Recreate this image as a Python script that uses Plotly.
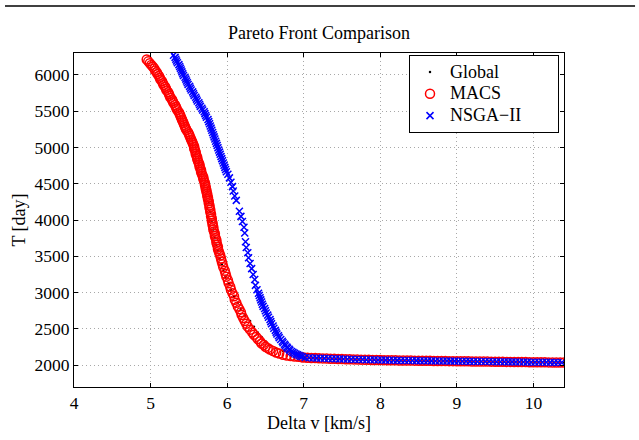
import plotly.graph_objects as go

# ---------------- data ----------------
macs_dv = [
    4.95, 4.97, 4.99, 5.01, 5.03, 5.05, 5.06, 5.08, 5.09, 5.11, 5.12, 5.13, 5.15, 5.16, 5.17, 5.19,
    5.20, 5.21, 5.23, 5.24, 5.25, 5.26, 5.28, 5.29, 5.30, 5.32, 5.33, 5.34, 5.35, 5.37, 5.38, 5.39,
    5.40, 5.41, 5.42, 5.43, 5.44, 5.45, 5.46, 5.47, 5.49, 5.50, 5.51, 5.52, 5.53, 5.54, 5.55, 5.56,
    5.57, 5.57, 5.58, 5.59, 5.59, 5.60, 5.61, 5.61, 5.62, 5.63, 5.64, 5.64, 5.65, 5.66, 5.66, 5.67,
    5.68, 5.69, 5.69, 5.70, 5.71, 5.71, 5.72, 5.72, 5.73, 5.73, 5.74, 5.74, 5.75, 5.75, 5.76, 5.76,
    5.77, 5.77, 5.78, 5.78, 5.79, 5.79, 5.80, 5.80, 5.81, 5.81, 5.82, 5.82, 5.83, 5.84, 5.84, 5.85,
    5.86, 5.86, 5.87, 5.88, 5.88, 5.89, 5.90, 5.91,
    5.92, 5.93, 5.94, 5.95, 5.97, 5.98, 5.99, 6.01, 6.02, 6.04, 6.05, 6.07, 6.09, 6.10, 6.12, 6.14,
    6.16, 6.18, 6.19, 6.21, 6.23, 6.25, 6.27, 6.30, 6.33, 6.35, 6.38, 6.40, 6.43, 6.45, 6.48, 6.50,
    6.53, 6.56, 6.60, 6.64, 6.68, 6.73, 6.78, 6.83, 6.88, 6.93, 6.97,
    7.00, 7.05, 7.10, 7.15, 7.20, 7.25, 7.30, 7.35, 7.40, 7.45,
    7.50, 7.55, 7.60, 7.65, 7.70, 7.75, 7.80, 7.85, 7.90, 7.95,
    8.00, 8.05, 8.10, 8.15, 8.20, 8.25, 8.30, 8.35, 8.40, 8.45,
    8.50, 8.55, 8.60, 8.65, 8.70, 8.75, 8.80, 8.85, 8.90, 8.95,
    9.00, 9.05, 9.10, 9.15, 9.20, 9.25, 9.30, 9.35, 9.40, 9.45,
    9.50, 9.55, 9.60, 9.65, 9.70, 9.75, 9.80, 9.85, 9.90, 9.95,
    10.00, 10.05, 10.10, 10.15, 10.20, 10.25, 10.30, 10.35, 10.40,
]
macs_T = [
    6210, 6185, 6160, 6135, 6110, 6085, 6060, 6035, 6010, 5985, 5960, 5935, 5910, 5885, 5860, 5835,
    5810, 5785, 5760, 5735, 5710, 5685, 5660, 5635, 5610, 5585, 5560, 5535, 5510, 5485, 5460, 5435,
    5410, 5385, 5360, 5335, 5310, 5285, 5260, 5235, 5210, 5185, 5160, 5135, 5110, 5085, 5060, 5035,
    5010, 4985, 4960, 4935, 4910, 4885, 4860, 4835, 4810, 4785, 4760, 4735, 4710, 4685, 4660, 4635,
    4610, 4585, 4560, 4535, 4510, 4485, 4460, 4435, 4410, 4385, 4360, 4335, 4310, 4285, 4260, 4230,
    4200, 4170, 4140, 4110, 4080, 4050, 4020, 3990, 3960, 3930, 3900, 3870, 3840, 3810, 3780, 3750,
    3720, 3690, 3660, 3630, 3600, 3570, 3540, 3510,
    3470, 3430, 3390, 3350, 3300, 3260, 3220, 3170, 3130, 3080, 3040, 2990, 2950, 2900, 2860, 2810,
    2770, 2730, 2690, 2650, 2610, 2570, 2530, 2490, 2450, 2420, 2390, 2360, 2330, 2300, 2280, 2255,
    2235, 2215, 2195, 2175, 2160, 2145, 2135, 2127, 2120, 2115, 2111,
    2106, 2103, 2100, 2098, 2096, 2094, 2092, 2090, 2088, 2086,
    2085, 2083, 2082, 2080, 2079, 2077, 2076, 2075, 2073, 2072,
    2071, 2070, 2069, 2068, 2067, 2066, 2065, 2064, 2064, 2063,
    2062, 2061, 2061, 2060, 2059, 2058, 2058, 2057, 2056, 2056,
    2055, 2054, 2054, 2053, 2052, 2052, 2051, 2050, 2050, 2049,
    2048, 2048, 2047, 2046, 2046, 2045, 2044, 2044, 2043, 2042,
    2042, 2041, 2040, 2040, 2039, 2038, 2038, 2037, 2036,
]

nsga_dv = [
    5.30, 5.32, 5.33, 5.34, 5.35, 5.37, 5.38, 5.39, 5.40, 5.41, 5.42, 5.43, 5.45, 5.46, 5.47, 5.48,
    5.49, 5.51, 5.52, 5.53, 5.55, 5.56, 5.57, 5.59, 5.60, 5.61, 5.63, 5.64, 5.65, 5.67, 5.68, 5.70,
    5.71, 5.72, 5.73, 5.75, 5.76, 5.77, 5.78, 5.79, 5.80, 5.81, 5.82, 5.83, 5.84, 5.85, 5.86, 5.87,
    5.88, 5.89, 5.90, 5.91, 5.92, 5.93, 5.94, 5.95, 5.96, 5.97, 5.98, 5.99,
    6.01, 6.03, 6.05, 6.07, 6.08, 6.10, 6.12, 6.16, 6.18, 6.20, 6.22, 6.23, 6.24, 6.25, 6.27,
    6.28, 6.30, 6.32, 6.34, 6.36, 6.37, 6.39,
    6.41, 6.42, 6.43, 6.44, 6.45, 6.46, 6.47, 6.49, 6.50, 6.51, 6.53, 6.54, 6.56, 6.57, 6.58, 6.60,
    6.61, 6.63, 6.64, 6.65, 6.67, 6.68, 6.70, 6.72, 6.73, 6.75, 6.76, 6.78, 6.79, 6.81, 6.82, 6.84,
    6.86, 6.88, 6.90, 6.92, 6.94, 6.96, 6.98,
    7.02, 7.07, 7.12, 7.17, 7.22, 7.27, 7.32, 7.37, 7.42, 7.47,
    7.52, 7.57, 7.62, 7.67, 7.72, 7.77, 7.82, 7.87, 7.92, 7.97,
    8.02, 8.07, 8.12, 8.17, 8.22, 8.27, 8.32, 8.37, 8.42, 8.47,
    8.52, 8.57, 8.62, 8.67, 8.72, 8.77, 8.82, 8.87, 8.92, 8.97,
    9.02, 9.07, 9.12, 9.17, 9.22, 9.27, 9.32, 9.37, 9.42, 9.47,
    9.52, 9.57, 9.62, 9.67, 9.72, 9.77, 9.82, 9.87, 9.92, 9.97,
    10.02, 10.07, 10.12, 10.17, 10.22, 10.27, 10.32, 10.37,
]
nsga_T = [
    6270, 6240, 6215, 6190, 6165, 6140, 6115, 6090, 6065, 6040, 6015, 5990, 5965, 5940, 5915, 5890,
    5865, 5840, 5815, 5790, 5765, 5740, 5715, 5690, 5665, 5640, 5615, 5590, 5565, 5540, 5515, 5490,
    5465, 5440, 5415, 5385, 5355, 5325, 5295, 5265, 5235, 5205, 5175, 5145, 5115, 5085, 5055, 5025,
    4995, 4965, 4935, 4905, 4875, 4845, 4815, 4785, 4755, 4725, 4695, 4665,
    4630, 4580, 4520, 4460, 4400, 4330, 4270, 4120, 4050, 3980, 3900, 3820, 3700, 3620, 3550,
    3480, 3400, 3330, 3250, 3180, 3100, 3040,
    2990, 2960, 2930, 2900, 2870, 2840, 2810, 2780, 2750, 2720, 2690, 2660, 2630, 2600, 2570, 2540,
    2510, 2480, 2455, 2430, 2405, 2380, 2355, 2330, 2310, 2290, 2270, 2250, 2235, 2220, 2205, 2190,
    2177, 2165, 2153, 2143, 2133, 2124, 2116,
    2106, 2103, 2100, 2098, 2096, 2094, 2092, 2090, 2088, 2087,
    2085, 2083, 2082, 2080, 2079, 2078, 2076, 2075, 2074, 2072,
    2071, 2070, 2069, 2068, 2067, 2066, 2065, 2064, 2064, 2063,
    2062, 2061, 2061, 2060, 2059, 2058, 2058, 2057, 2056, 2056,
    2055, 2054, 2054, 2053, 2052, 2052, 2051, 2050, 2050, 2049,
    2048, 2048, 2047, 2046, 2046, 2045, 2044, 2044, 2043, 2042,
    2042, 2041, 2040, 2040, 2039, 2038, 2038, 2037,
]

global_dv = [
    5.76, 5.78, 5.80, 5.82, 5.84, 5.86, 5.88, 5.90, 5.93, 5.95, 5.98, 6.02, 6.05, 6.09, 6.14,
    6.18, 6.23, 6.30, 6.35, 6.40, 6.45, 6.50, 6.56, 6.64, 6.73, 6.83, 6.93, 7.00, 7.50, 8.00,
    8.50, 9.00, 9.50, 10.00, 10.40,
]
global_T = [
    4230, 4110, 3990, 3870, 3750, 3660, 3570, 3470, 3390, 3300, 3220, 3130, 3040, 2950, 2860,
    2770, 2690, 2610, 2530, 2450, 2390, 2330, 2280, 2235, 2195, 2160, 2135, 2106, 2085, 2071,
    2062, 2055, 2048, 2042, 2036,
]

series_names = ["Global", "MACS", "NSGA\u2212II"]
x_ticks = [4, 5, 6, 7, 8, 9, 10]
y_ticks = [2000, 2500, 3000, 3500, 4000, 4500, 5000, 5500, 6000]

FONT = "Liberation Serif, Times New Roman, serif"
NB = "\u00a0"


def legend_label(name, pad):
    # larger visible text inside a compact legend row, trailing padding like MATLAB's legend box
    return f'<span style="font-size:18px">{name}{NB * pad}</span>'


fig = go.Figure()
fig.add_trace(go.Scatter(
    x=global_dv, y=global_T, mode="markers", name=legend_label(series_names[0], 7),
    marker=dict(symbol="circle", size=2.5, color="black"),
))
fig.add_trace(go.Scatter(
    x=macs_dv, y=macs_T, mode="markers", name=legend_label(series_names[1], 7),
    marker=dict(symbol="circle-open", size=9, color="#ff0000", line=dict(width=1.5, color="#ff0000")),
))
fig.add_trace(go.Scatter(
    x=nsga_dv, y=nsga_T, mode="markers", name=legend_label(series_names[2], 7),
    marker=dict(symbol="x-thin-open", size=7, color="#0000ff", line=dict(width=1.5, color="#0000ff")),
))

axis_common = dict(
    showline=True, linecolor="black", linewidth=1, mirror="ticks",
    ticks="inside", ticklen=4, tickcolor="black",
    showgrid=True, gridcolor="#a8a8a8", griddash="1px,3px", gridwidth=1,
    zeroline=False, tickfont=dict(family=FONT, size=17.5, color="black"),
)

fig.update_xaxes(range=[4, 10.4], tickvals=x_ticks, ticktext=[str(v) for v in x_ticks],
                 title=dict(text="Delta v [km/s]", font=dict(family=FONT, size=18, color="black"), standoff=2),
                 **axis_common)
fig.update_yaxes(range=[1700, 6300], tickvals=y_ticks, ticktext=[str(v) for v in y_ticks],
                 title=dict(text="T [day]", font=dict(family=FONT, size=18, color="black"), standoff=4),
                 **axis_common)

fig.update_layout(
    width=639, height=440,
    margin=dict(l=74, r=75, t=53, b=53, autoexpand=False),
    paper_bgcolor="white", plot_bgcolor="white",
    font=dict(family=FONT, size=18, color="black"),
    title=dict(text="Pareto Front Comparison", x=0.5, xref="paper", xanchor="center",
               y=1 - 33 / 440, yanchor="middle", font=dict(family=FONT, size=18, color="black")),
    showlegend=True,
    legend=dict(x=0.9898, y=0.994, xanchor="right", yanchor="top",
                bgcolor="white", bordercolor="black", borderwidth=1,
                font=dict(family=FONT, size=14.5, color="black"),
                tracegroupgap=0, itemsizing="trace"),
    shapes=[dict(type="line", xref="paper", yref="paper",
                 x0=-0.1408, x1=1.145, y0=1.1407, y1=1.1407,
                 line=dict(color="black", width=1.5))],
)

fig.write_html("out.html")
